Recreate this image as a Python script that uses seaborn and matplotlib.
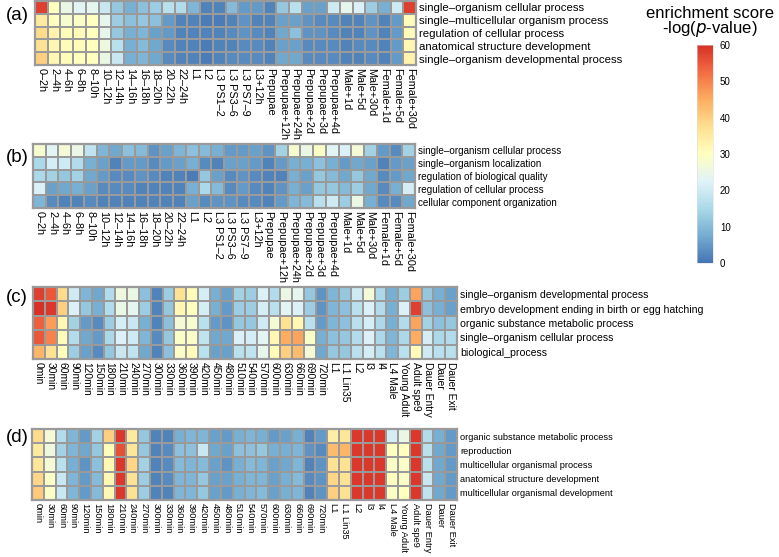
import numpy as np
import pandas as pd
import seaborn as sns
import matplotlib
matplotlib.use('Agg')
import matplotlib.pyplot as plt
from matplotlib.colors import LinearSegmentedColormap

# ===== data =====
fly_stages = ['0\u20132h', '2\u20134h', '4\u20136h', '6\u20138h', '8\u201310h', '10\u201312h', '12\u201314h',
              '14\u201316h', '16\u201318h', '18\u201320h', '20\u201322h', '22\u201324h', 'L1', 'L2',
              'L3 PS1\u20132', 'L3 PS3\u20136', 'L3 PS7\u20139', 'L3+12h', 'Prepupae', 'Prepupae+12h',
              'Prepupae+24h', 'Prepupae+2d', 'Prepupae+3d', 'Prepupae+4d', 'Male+1d', 'Male+5d',
              'Male+30d', 'Female+1d', 'Female+5d', 'Female+30d']
worm_stages = ['0min', '30min', '60min', '90min', '120min', '150min', '180min', '210min', '240min',
               '270min', '300min', '330min', '360min', '390min', '420min', '450min', '480min', '510min',
               '540min', '570min', '600min', '630min', '660min', '690min', '720min', 'L1', 'L1 Lin35',
               'L2', 'l3', 'l4', 'L4 Male', 'Young Adult', 'Adult spe9', 'Dauer Entry', 'Dauer', 'Dauer Exit']

terms_a = ['single\u2013organism cellular process', 'single\u2013multicellular organism process',
           'regulation of cellular process', 'anatomical structure development',
           'single\u2013organism developmental process']
scores_a = [
    [58, 30, 25, 23, 24, 19, 12, 8, 11, 13, 17, 16, 9, 2, 2, 10, 5, 5, 2, 12, 17, 6, 6, 20, 24, 22, 13, 8, 20, 58],
    [35, 30, 28, 29, 30, 24, 13, 11, 12, 11, 5, 2, 2, 1, 1, 2, 4, 2, 2, 6, 6, 4, 3, 3, 2, 2, 4, 2, 5, 31],
    [38, 33, 31, 31, 30, 24, 12, 8, 9, 6, 5, 2, 2, 2, 2, 3, 4, 3, 2, 7, 11, 4, 4, 3, 2, 2, 4, 2, 5, 31],
    [37, 32, 31, 31, 30, 26, 17, 8, 10, 7, 3, 2, 2, 1, 2, 2, 3, 3, 2, 6, 6, 3, 3, 3, 2, 3, 3, 2, 5, 32],
    [40, 32, 31, 30, 30, 25, 19, 8, 9, 7, 3, 2, 2, 1, 2, 3, 3, 3, 2, 7, 7, 3, 3, 3, 2, 2, 3, 2, 5, 33],
]

terms_b = ['single\u2013organism cellular process', 'single\u2013organism localization',
           'regulation of biological quality', 'regulation of cellular process',
           'cellular component organization']
scores_b = [
    [28, 23, 27, 25, 18, 9, 7, 11, 10, 4, 6, 9, 11, 10, 8, 5, 5, 6, 4, 14, 28, 25, 29, 23, 22, 27, 14, 5, 3, 14],
    [15, 21, 20, 16, 8, 6, 2, 5, 5, 3, 5, 6, 8, 3, 2, 6, 6, 5, 2, 5, 8, 8, 11, 8, 5, 7, 6, 2, 5, 6],
    [15, 14, 12, 14, 7, 5, 3, 3, 4, 3, 2, 2, 1, 12, 6, 3, 4, 3, 2, 2, 8, 6, 12, 10, 7, 12, 7, 3, 5, 7],
    [22, 6, 7, 8, 6, 3, 3, 3, 2, 2, 2, 2, 8, 15, 10, 3, 5, 3, 2, 4, 8, 6, 12, 12, 10, 13, 7, 3, 8, 21],
    [9, 3, 2, 2, 3, 2, 2, 2, 2, 2, 2, 2, 6, 3, 4, 4, 3, 3, 2, 5, 9, 10, 17, 20, 13, 25, 8, 3, 3, 7],
]

terms_c = ['single\u2013organism developmental process',
           'embryo development ending in birth or egg hatching',
           'organic substance metabolic process', 'single\u2013organism cellular process',
           'biological_process']
scores_c = [
    [58, 55, 38, 20, 9, 7, 16, 26, 25, 11, 2, 13, 37, 31, 21, 8, 6, 14, 13,
     22, 16, 25, 24, 12, 4, 9, 12, 20, 27, 15, 8, 13, 46, 12, 8, 6],
    [60, 59, 40, 22, 12, 8, 16, 25, 24, 13, 2, 12, 32, 30, 21, 8, 5, 13, 13,
     21, 17, 23, 22, 13, 4, 9, 11, 17, 22, 16, 8, 22, 58, 11, 8, 6],
    [54, 47, 32, 14, 5, 3, 13, 21, 19, 8, 2, 11, 27, 28, 17, 5, 4, 12, 12,
     20, 27, 37, 32, 17, 5, 9, 11, 17, 21, 15, 8, 16, 46, 14, 11, 12],
    [55, 50, 31, 16, 7, 5, 15, 22, 20, 9, 3, 12, 29, 29, 18, 7, 7, 22, 21,
     23, 32, 45, 46, 29, 8, 11, 12, 16, 22, 15, 9, 15, 45, 21, 15, 16],
    [44, 37, 30, 13, 6, 3, 12, 19, 18, 7, 2, 11, 29, 31, 17, 6, 6, 17, 18,
     24, 31, 40, 43, 27, 7, 12, 12, 17, 21, 17, 9, 17, 31, 20, 17, 17],
]

terms_d = ['organic substance metabolic process', 'reproduction',
           'multicellular organismal process', 'anatomical structure development',
           'multicellular organismal development']
scores_d = [
    [38, 27, 16, 9, 5, 14, 40, 59, 35, 12, 2, 2, 8, 9, 9, 6, 5, 8, 9,
     8, 5, 6, 8, 2, 5, 34, 36, 59, 59, 59, 21, 25, 59, 16, 8, 5],
    [35, 26, 14, 9, 7, 12, 31, 56, 36, 12, 2, 3, 11, 11, 19, 7, 6, 11, 11,
     12, 8, 8, 9, 4, 3, 43, 44, 59, 59, 59, 30, 30, 59, 17, 7, 5],
    [36, 27, 17, 8, 4, 11, 32, 59, 39, 14, 2, 3, 10, 9, 10, 6, 4, 8, 10,
     9, 6, 7, 9, 2, 4, 37, 37, 59, 59, 59, 29, 29, 59, 17, 7, 5],
    [39, 29, 19, 9, 5, 10, 32, 59, 37, 13, 2, 3, 9, 9, 12, 6, 6, 8, 9,
     9, 6, 8, 10, 3, 4, 39, 37, 59, 59, 59, 30, 29, 59, 19, 7, 5],
    [41, 29, 19, 9, 5, 10, 32, 59, 37, 13, 2, 2, 9, 9, 12, 6, 5, 8, 9,
     10, 6, 8, 9, 2, 4, 40, 37, 59, 59, 59, 29, 30, 59, 18, 7, 5],
]

panel_letters = ['(a)', '(b)', '(c)', '(d)']

# ===== style =====
plt.rcParams['font.family'] = ['Liberation Sans', 'DejaVu Sans']
cmap = LinearSegmentedColormap.from_list(
    'enrich', ['#4575B4', '#74ADD1', '#ABD9E9', '#E0F3F8', '#FFFFBF',
               '#FEE090', '#FDAE61', '#F46D43', '#D73027'])
grid_col = '#9a9a9a'

fig = plt.figure(figsize=(7.79, 5.57), dpi=100)

W, H = 779.0, 557.0
def box(x0, y0, x1, y1):
    return [x0 / W, 1 - y1 / H, (x1 - x0) / W, (y1 - y0) / H]

# df, position, xtick font, ytick font
panels = [
    (pd.DataFrame(scores_a, index=terms_a, columns=fly_stages), box(35, 1, 416, 65), 7.8, 8.2),
    (pd.DataFrame(scores_b, index=terms_b, columns=fly_stages), box(33, 144, 415, 208), 7.8, 7.1),
    (pd.DataFrame(scores_c, index=terms_c, columns=worm_stages), box(33, 287, 457, 359), 7.4, 7.6),
    (pd.DataFrame(scores_d, index=terms_d, columns=worm_stages), box(32, 429, 457, 500), 6.7, 6.7),
]
letter_y = [16, 158, 298, 438]

cax = fig.add_axes(box(697, 45, 713, 263))

axes = []
for i, (df, pos, xfs, yfs) in enumerate(panels):
    ax = fig.add_axes(pos)
    sns.heatmap(df, ax=ax, cmap=cmap, vmin=0, vmax=60, linewidths=1.3, linecolor=grid_col,
                cbar=(i == 0), cbar_ax=cax if i == 0 else None,
                xticklabels=True, yticklabels=True)
    ax.yaxis.tick_right()
    ax.set_yticklabels(df.index, rotation=0, fontsize=yfs)
    ax.set_xticklabels(df.columns, rotation=270, fontsize=xfs)
    ax.tick_params(length=0, pad=2.5)
    for sp in ax.spines.values():
        sp.set_visible(True)
        sp.set_color(grid_col)
        sp.set_linewidth(1.6)
    ax.set_xlabel('')
    ax.set_ylabel('')
    fig.text(17 / W, 1 - letter_y[i] / H, panel_letters[i], fontsize=13.5, ha='center', va='center')
    axes.append(ax)

cbar = axes[0].collections[0].colorbar
cbar.set_ticks([0, 10, 20, 30, 40, 50, 60])
cbar.ax.tick_params(labelsize=7, length=0, pad=5)
cbar.outline.set_linewidth(0.4)
cbar.outline.set_edgecolor('#dddddd')

fig.text(710 / W, 1 - 13 / H, 'enrichment score', fontsize=12, ha='center', va='center')
fig.text(710 / W, 1 - 29 / H, '-log($\\it{p}$-value)', fontsize=12, ha='center', va='center')

fig.savefig('out.png', dpi=100)
